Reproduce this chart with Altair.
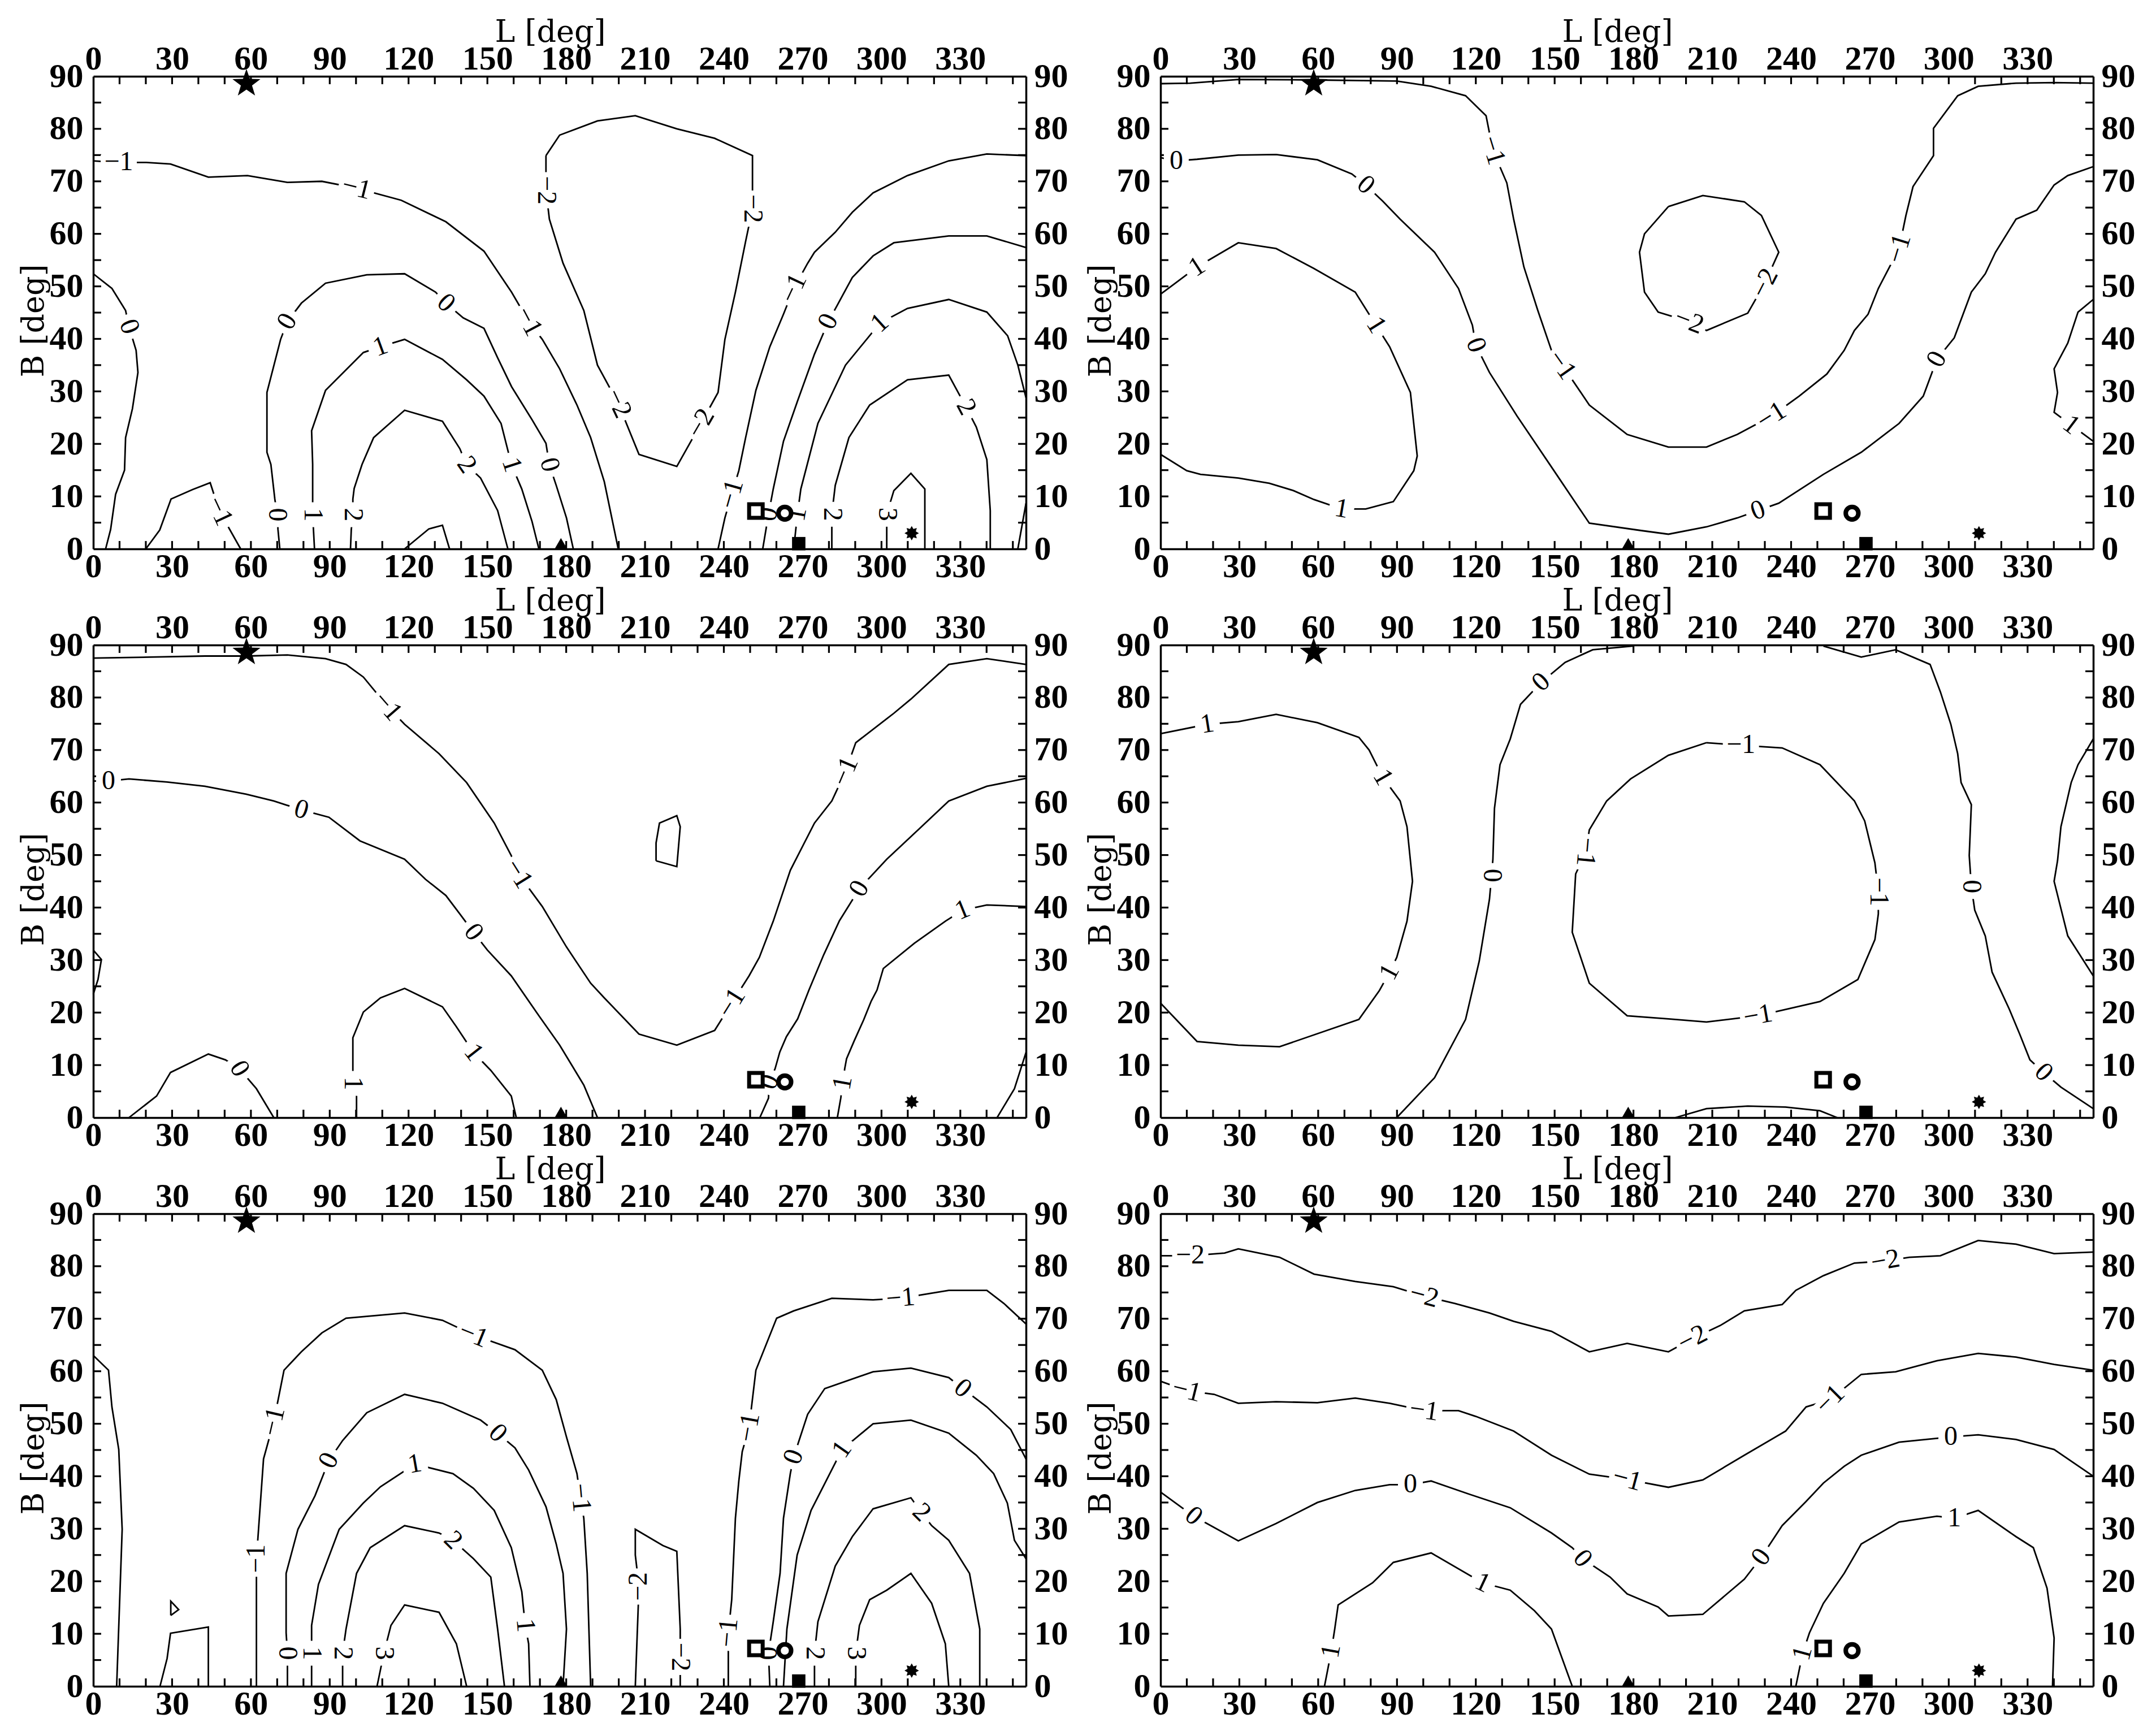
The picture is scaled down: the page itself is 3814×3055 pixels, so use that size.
import math
import altair as alt
import pandas as pd

# ---------------------------------------------------------------- data
X_MAX = 355
X_LABELS = list(range(0, 331, 30))
Y_LABELS = list(range(0, 91, 10))
X_TICKS = list(range(10, 351, 10))
Y_TICKS = list(range(5, 86, 5))

# markers (same in every panel)
MK_L = [58.3, 252.2, 263.2, 268.5, 178.0, 311.5]
MK_B = [88.6, 7.2, 6.8, 1.0, 1.0, 3.0]
MK_KIND = ["star", "osq", "ocirc", "fsq", "tri", "ast"]

# contour lines: list of (L values, B values)
P1_LINES = [
    ([0, 9.7, 20.2, 29.4, 43.8, 58.7, 73.9, 87, 100.2, 117.2, 134.2, 148.7, 159.2, 165.7, 170.9, 177.5, 184.1, 189.3, 194.5, 199.8],
     [73.9, 73.6, 73.6, 73.3, 70.8, 71.1, 69.8, 70, 68.7, 66.4, 62.3, 56.7, 48.9, 43.3, 39.9, 34.3, 27.4, 21.2, 12.8, 0]),
    ([172.3, 177.5, 191.9, 206.3, 222.1, 236.5, 250.9, 250.9, 248.3, 244.4, 240.4, 237.8, 231.3, 222.1, 207.7, 199.8, 191.9, 186.7, 178.8, 173.6, 172.3, 172.3],
     [74.9, 78.8, 81.5, 82.5, 80, 78.2, 74.9, 64.8, 58.6, 48.9, 39.9, 29.8, 23.9, 15.7, 18, 27.7, 35, 45.4, 54.4, 62.8, 68.3, 74.9]),
    ([0, 7.1, 12.3, 13.6, 16.3, 17, 14.9, 12.3, 11.9, 8.5, 6.6, 4.7],
     [52.4, 49.6, 45.4, 42.3, 37.8, 33.6, 26.7, 21.2, 15, 10.4, 3.7, 0]),
    ([20, 25.3, 29.6, 37.8, 44.5, 48, 56.1], [0, 3.6, 9.5, 11.3, 12.6, 7.2, 0]),
    ([71, 70.3, 70, 69.1, 67.6, 66.1, 66.1, 71.3, 73.9, 79.2, 88.4, 104.1, 118.5, 130.3, 134.2, 140.8, 148.7, 153.9, 159.2, 167, 172.3, 173.6, 176.2, 180.1, 182.7],
     [0, 3.7, 6.5, 9.5, 16.1, 18.4, 29.8, 39.9, 43.3, 46.8, 50.6, 52.2, 52.4, 48.9, 46.8, 44, 42, 36.4, 30.9, 24.6, 20.1, 16, 12.1, 5.9, 0]),
    ([84.2, 83.8, 83.5, 83.5, 83.5, 83.1, 88.4, 102.8, 109.3, 118.5, 132.9, 142.1, 148.7, 155.2, 159.2, 163.1, 167, 169.6],
     [0, 3.7, 6.5, 9.5, 16.1, 22.5, 30.2, 37.4, 38.5, 39.9, 36.1, 32.2, 29.1, 23.9, 16, 11.4, 5.2, 0]),
    ([97.9, 98.2, 98.8, 98.8, 99.3, 102.3, 106.7, 118.5, 132.9, 139.5, 142.1, 147.4, 153.9, 157.8],
     [0, 3.7, 6.5, 9.5, 11.5, 16.1, 21.2, 26.4, 24.3, 19.1, 16, 13.5, 7.3, 0]),
    ([118.5, 127.7, 132.9, 135.6], [0, 3.8, 4.5, 0]),
    ([237.8, 240.4, 243, 245.7, 248.3, 252.2, 257.5, 262.7, 266.6, 271.9, 274.5, 282.4, 288.9, 296.8, 309.9, 325.6, 340.1, 355],
     [0, 5.9, 10.4, 14.9, 21.2, 30.2, 38.5, 44.7, 49.6, 54.4, 56.5, 60.3, 64.1, 67.8, 71.1, 73.9, 75.2, 74.9]),
    ([254.8, 257, 258.8, 262.7, 268, 274.5, 279.8, 288.9, 296.8, 304.7, 325.6, 340.1, 355],
     [0, 6.6, 11.4, 20.5, 28.1, 37.1, 43.3, 51.7, 55.8, 58.3, 59.6, 59.6, 57.4]),
    ([266.6, 268, 269.3, 275.8, 286.3, 299.4, 309.9, 325.6, 340.1, 348, 351.9, 355],
     [0, 6.6, 11.4, 23.9, 35, 43, 45.8, 47.5, 45.1, 40.6, 35, 28.8]),
    ([281.1, 281.1, 282.4, 287.6, 295.5, 309.9, 325.6, 332.2, 336.1, 340.1, 341.4, 341.4],
     [0, 6.6, 12.1, 21.2, 27.4, 32.2, 33.1, 27, 23.2, 17, 7.3, 0]),
    ([302, 302, 304.7, 311.2, 316.5, 316.5], [0, 6.6, 11.1, 14.4, 11.4, 0]),
    ([351.9, 355], [0, 8.7]),
]
P1_LABELS = [
    (9.7, 73.6, "−1", 0), (100.2, 68.7, "−1", 14), (165.7, 43.3, "−1", 62),
    (172.3, 68.3, "−2", 90), (250.9, 64.8, "−2", 90), (199.8, 27.7, "−2", 65), (231.3, 23.9, "−2", 300),
    (13.6, 42.3, "0", 70), (48, 7.2, "−1", 65), (70, 6.5, "0", 90), (73.9, 43.3, "0", 300),
    (134.2, 46.8, "0", 43), (173.6, 16, "0", 76), (83.5, 6.5, "1", 90), (109.3, 38.5, "1", 340),
    (159.2, 16, "1", 72), (98.8, 6.5, "2", 90), (142.1, 16, "2", 55), (243, 10.4, "−1", 286),
    (266.6, 49.6, "−1", 295), (257, 6.6, "0", 280), (279.8, 43.3, "0", 296), (268, 6.6, "1", 280),
    (299.4, 43, "1", 318), (281.1, 6.6, "2", 90), (332.2, 27, "2", 62), (302, 6.6, "3", 90),
]

P2_LINES = [
    ([0, 11.3, 29.6, 59.7, 89.9, 103, 116.1, 123.9, 126.5, 131.8, 134.4, 138.3, 143.6, 148.8, 152.7, 156.7, 163.2, 177.6, 193.3, 207.8, 219.5, 232.6, 243.1, 253.6, 260.2, 264.1, 269.3, 273.2, 281.1, 283.7, 286.4, 294.2, 294.2, 303.4, 311.2, 325.6, 340.1, 355],
     [88.6, 88.7, 89.4, 89.3, 89.1, 88.1, 86.3, 82.5, 75.9, 69.7, 62.8, 53.7, 45.4, 37.8, 35, 32.2, 27.4, 21.8, 19.4, 19.4, 21.8, 25.3, 29.1, 33.3, 37.8, 41.6, 44.7, 49.6, 57.2, 63.5, 69, 74.9, 80.1, 86.3, 88.1, 88.7, 88.8, 88.7]),
    ([0, 6, 13.9, 29.6, 44, 59.7, 72.8, 78.1, 84.6, 91.2, 104.3, 113.4, 118.7, 120, 125.2, 135.7, 148.8, 163.2, 182.9, 193.3, 207.8, 219.5, 227.4, 235.3, 252.3, 266.7, 281.1, 290.3, 295.5, 302.1, 308.6, 313.9, 317.8, 325.6, 333.5, 340.1, 345.3, 355],
     [74.5, 73.9, 74.2, 75, 75.1, 74.1, 71.4, 69.3, 66.2, 62.8, 56.5, 49.6, 42.6, 38.8, 33.6, 25.3, 15.6, 4.9, 3.5, 2.8, 4.2, 5.9, 7.3, 8.7, 14.2, 18.4, 23.9, 29.1, 36.1, 40.2, 48.9, 52.4, 56.5, 62.8, 64.5, 69.3, 71.1, 72.8]),
    ([0, 13.9, 29.6, 44, 58.4, 74.1, 82, 87.2, 95.1, 97.7, 96.4, 88.6, 78.1, 68.9, 58.4, 50.6, 41.4, 29.6, 15.2, 10, 0],
     [48.5, 53.7, 58.3, 57.2, 53.4, 48.9, 42.6, 38.5, 29.8, 17.7, 14.9, 9, 7.6, 7.6, 9.4, 11.1, 12.5, 13.5, 14.2, 14.9, 18]),
    ([193.3, 206.4, 222.2, 228.7, 235.3, 230, 223.5, 207.8, 201.2, 189.4, 184.2, 182.3, 184.2, 193.3],
     [65.2, 67.3, 66.1, 63.5, 56.5, 50.6, 44.9, 41.6, 43.3, 45.1, 48.9, 56.5, 60, 65.2]),
    ([355, 349.2, 345.3, 340.1, 341.4, 340.1, 346.6, 355], [47.5, 45.1, 39.2, 34.3, 29.8, 26, 23.6, 20.5]),
]
P2_LABELS = [
    (126.5, 75.9, "−1", 73), (152.7, 35, "−1", 55), (232.6, 25.3, "−1", 328), (281.1, 57.2, "−1", 287),
    (6, 73.9, "0", 0), (78.1, 69.3, "0", 41), (120, 38.8, "0", 70), (227.4, 7.3, "0", 340), (295.5, 36.1, "0", 298),
    (13.9, 53.7, "1", 327), (82, 42.6, "1", 58), (68.9, 7.6, "1", 10),
    (230, 50.6, "−2", 297), (201.2, 43.3, "−2", 21), (346.6, 23.6, "1", 37),
]

P3_LINES = [
    ([0, 21.5, 42.5, 58.2, 73.9, 88.4, 96.2, 102.8, 112, 118.5, 131.6, 142.1, 152.6, 159.1, 161.8, 170.9, 180.1, 189.3, 194.5, 207.7, 222.1, 236.5, 243, 249.6, 253.5, 258.8, 265.3, 274.5, 281.1, 286.3, 290.2, 304.7, 311.2, 325.6, 340.1, 355],
     [87.5, 87.7, 87.9, 87.9, 88.1, 87.4, 86.3, 83.9, 78.3, 74.9, 69.3, 63.8, 56.1, 49.9, 46.4, 40.2, 32.5, 25.6, 22.8, 15.9, 13.8, 16.6, 21.8, 27, 30.5, 37.4, 47.1, 56.1, 60.3, 65.9, 71.4, 77, 79.7, 86.3, 87.4, 86.3]),
    ([0, 5.8, 13.6, 28.1, 42.5, 58.2, 68.7, 79.2, 89.7, 101.5, 118.5, 126.4, 134.2, 139.5, 144.7, 150, 159.1, 169.6, 177.5, 186.7, 191.9],
     [64.1, 64.1, 64.5, 63.9, 63.1, 61.6, 60.3, 58.6, 57.2, 52.7, 49.2, 45.4, 42.3, 38.8, 35.3, 31.9, 27, 19.4, 13.8, 6.2, 0]),
    ([253.7, 257, 257.3, 259.5, 261.3, 263.8, 268.1, 272.4, 278, 284, 291.6, 302, 315.2, 325.6, 340.1, 355],
     [0, 3.7, 6.8, 9.3, 12.5, 15.4, 18.8, 24.3, 31, 37.5, 43.6, 49.2, 55.4, 60.3, 63.1, 64.6]),
    ([100.2, 100.2, 98.8, 98.8, 98.8, 102.8, 109.3, 118.5, 132.9, 138.2, 144.7, 151.3, 159.1, 161],
     [0, 4.1, 6.5, 9.6, 15.2, 20.1, 22.8, 24.6, 21.1, 17.3, 12.4, 9, 4.1, 0]),
    ([283.2, 284.5, 285.3, 286, 286.7, 289.6, 293.2, 296.1, 298.3, 300.7, 312.5, 324.3, 330.9, 340.1, 355],
     [0, 3.7, 6.6, 9.3, 11.2, 14.6, 18.6, 22.2, 24.3, 28.4, 33.2, 37.4, 39.5, 40.5, 40.2]),
    ([0, 3.1, 1.8, 0], [31.9, 30.1, 26.3, 23.5]),
    ([13.6, 24.1, 29.4, 43.8, 50.3, 55.6, 62.1, 68.7], [0, 4.1, 8.6, 12.1, 11, 9.3, 5.5, 0]),
    ([214.2, 222.1, 223.4, 222.1, 215.5, 214.2, 214.2], [48.9, 47.8, 55.4, 57.5, 56.1, 52.3, 48.9]),
    ([344, 350.6, 355], [0, 5.5, 12.4]),
]
P3_LABELS = [
    (112, 78.3, "−1", 49), (161.8, 46.4, "−1", 58), (243, 21.8, "−1", 302), (286.3, 65.9, "−1", 293),
    (5.8, 64.1, "0", 0), (79.2, 58.6, "0", 17), (144.7, 35.3, "0", 53), (257.3, 6.8, "0", 290),
    (291.6, 43.6, "0", 300), (98.8, 6.5, "1", 90), (144.7, 12.4, "1", 52), (285.3, 6.6, "1", 280),
    (330.9, 39.5, "1", 338), (55.6, 9.3, "0", 60),
]

P4_LINES = [
    ([0, 17.8, 29.6, 44, 59.7, 75.5, 79.4, 84.6, 91.2, 93.8, 95.9, 93.8, 89.9, 87.2, 83.3, 75.5, 61, 45.3, 29.6, 13.9, 0],
     [73.1, 74.9, 75.4, 76.8, 75.2, 72.4, 70, 64.8, 60.3, 55.4, 45, 37.4, 30.5, 27.7, 24.2, 18.7, 16.2, 13.5, 13.8, 14.5, 21.8]),
    ([179.7, 164.5, 154, 144.9, 137, 133.1, 129.2, 127.1, 126.5, 126, 125.2, 121.3, 116.1, 104.3, 89.9],
     [89.8, 89.1, 86.7, 82.9, 78.7, 72.1, 67.2, 58.9, 49.2, 46.1, 41.6, 29.8, 18.7, 7.6, 0]),
    ([252.3, 266.7, 279.8, 292.9, 296.8, 300.8, 303.4, 304.7, 308.6, 307.8, 308.6, 309.9, 313.9, 316.5, 323, 327, 330.9, 336.1, 342.7, 355],
     [89.8, 87.7, 89.1, 86.3, 81.1, 74.9, 69.3, 63.8, 59.6, 49.9, 44, 39.5, 34.6, 27.7, 20.7, 15.9, 11, 8.6, 5.8, 1.7]),
    ([207.8, 193.3, 178.9, 169.8, 163.2, 161.9, 158, 156.7, 163.2, 177.6, 193.3, 207.8, 227.4, 251, 265.4, 271.9, 273.2, 273.2, 271.9, 268, 264.1, 251, 236.6, 220.9, 207.8],
     [71.4, 69, 64.5, 60.3, 54.8, 50.6, 46.4, 35.3, 25.6, 19.4, 18.8, 18.2, 19.4, 22.1, 26.3, 33.9, 38.8, 43, 48.5, 56.5, 60.3, 67.2, 70.4, 70.9, 71.4]),
    ([196, 207.8, 223.5, 237.9, 251, 257.5], [0, 1.7, 2.2, 2, 1.3, 0]),
    ([355, 349.2, 346.6, 342.7, 341.4, 340.1, 345.3, 355], [72.1, 67.2, 63.8, 55.4, 48.9, 45, 34.6, 27]),
]
P4_LABELS = [
    (17.8, 74.9, "1", 351), (84.6, 64.8, "1", 60), (87.2, 27.7, "1", 298),
    (144.9, 82.9, "0", 317), (126, 46.1, "0", 90), (308.6, 44, "0", 90), (336.1, 8.6, "0", 45),
    (161.9, 50.6, "−1", 95), (227.4, 19.4, "−1", 350), (273.2, 43, "−1", 90), (220.9, 70.9, "−1", 0),
]

P5_LINES = [
    ([0, 5.8, 7.1, 9.7, 11, 8.9], [63, 60.2, 53.2, 45.1, 29.9, 0]),
    ([25.4, 28.1, 29.4, 43.8, 43.8], [0, 5.3, 10.1, 11.3, 0]),
    ([29.5, 32.5, 29.5, 29.5], [13.5, 14.6, 16.2, 13.5]),
    ([62.1, 62.1, 62.1, 62.9, 64.8, 68.7, 72.6, 79.2, 87, 96.2, 118.5, 132.9, 144.7, 160.5, 170.9, 176.2, 180.1, 184.1, 185.4, 186.7, 188, 189.3],
     [0, 20.4, 24.3, 29.9, 43.3, 50.4, 60.2, 63.7, 67.3, 70.1, 71.1, 69.7, 66.9, 64.1, 60.2, 54.6, 47.5, 40.5, 35.9, 32, 21.5, 0]),
    ([73.9, 73.9, 73.4, 73.4, 77.9, 84.4, 89.7, 94.9, 104.1, 118.5, 132.9, 147.4, 153.9, 160.5, 165.7, 172.3, 176.2, 178.8, 180.1, 178.8],
     [0, 6.3, 10.2, 21.5, 29.9, 36.3, 43, 46.8, 52.1, 55.6, 53.9, 50.7, 48.2, 45.4, 41.2, 34.2, 27.1, 21.5, 10.9, 0]),
    ([83.1, 83.1, 83.1, 85.7, 93.6, 102.8, 109.3, 122.4, 136.9, 144.7, 152.6, 159.1, 163.1, 164.4, 165.7, 166.2],
     [0, 6.3, 11.6, 19.4, 29.9, 34.9, 38, 42.3, 40.5, 37.7, 33.5, 26.4, 18, 11.6, 8.1, 0]),
    ([94.9, 94.9, 96.2, 100.2, 105.4, 118.5, 131.6, 136.9, 144.7, 151.3, 153.9, 156.5],
     [0, 6.3, 10.9, 21.5, 26.4, 30.6, 29.2, 27.8, 24.3, 20.8, 10.9, 0]),
    ([108, 110.6, 113.3, 118.5, 131.6, 138.2, 142.1], [0, 6.3, 11.6, 15.5, 14.1, 8.1, 0]),
    ([206.3, 207.7, 206.3, 206.3, 216.8, 222.1, 223.4, 223.4, 223.4], [0, 19, 25, 29.9, 26.8, 25.7, 10.9, 5.6, 0]),
    ([241.7, 241.7, 243, 244.4, 245.7, 247, 249.6, 252.2, 260.1, 266.6, 281.1, 296.8, 307.3, 325.6, 340.1, 346.6, 355],
     [0, 10.2, 16.5, 32, 39.1, 44.7, 49.3, 60.2, 70.1, 71.5, 73.9, 73.6, 73.9, 75.4, 75.4, 72.9, 69]),
    ([257.5, 257, 258.8, 261.4, 262.7, 265.3, 266.6, 271.9, 278.4, 296.8, 311.2, 325.6, 330.9, 340.1, 349.2, 355],
     [0, 6.3, 12.3, 21.5, 32, 40.5, 43.7, 51.8, 56.7, 59.9, 60.6, 58.8, 56.7, 53.2, 48.9, 43.3]),
    ([262.7, 264, 267.9, 273.2, 285, 296.8, 311.2, 325.6, 336.1, 342.7, 347.9, 350.6, 355],
     [0, 10.9, 25, 33.5, 45.1, 50, 50.7, 48.2, 44, 40.5, 34.9, 27.8, 24.3]),
    ([274.5, 274.5, 275.8, 282.4, 288.9, 296.8, 311.2, 315.2, 319.1, 325.6, 333.5, 337.4, 337.4],
     [0, 6.3, 12.3, 22.9, 28.5, 33.8, 35.9, 33.1, 30.6, 27.8, 21.5, 10.9, 0]),
    ([290.2, 290.2, 291.6, 295.5, 302, 311.2, 319.1, 324.3, 325.6], [0, 6.3, 11.6, 16.5, 18.3, 21.5, 15.8, 8.1, 0]),
]
P5_LABELS = [
    (62.1, 24.3, "−1", 270), (68.7, 50.4, "−1", 283), (144.7, 66.9, "−1", 22), (185.4, 35.9, "−1", 85),
    (73.9, 6.3, "0", 90), (89.7, 43, "0", 297), (153.9, 48.2, "0", 45),
    (83.1, 6.3, "1", 90), (122.4, 42.3, "1", 350), (164.4, 11.6, "1", 85),
    (94.9, 6.3, "2", 90), (136.9, 27.8, "2", 45), (110.6, 6.3, "3", 90),
    (207.7, 19, "−2", 270), (223.4, 5.6, "−2", 90),
    (241.7, 10.2, "−1", 275), (249.6, 49.3, "−1", 280), (307.3, 73.9, "−1", 355),
    (257, 6.3, "0", 270), (266.6, 43.7, "0", 290), (330.9, 56.7, "0", 40),
    (285, 45.1, "1", 305), (274.5, 6.3, "2", 90), (315.2, 33.1, "2", 45), (290.2, 6.3, "3", 90),
]

P6_LINES = [
    ([0, 11.3, 24.4, 29.6, 45.3, 58.4, 74.1, 88.6, 100.3, 112.1, 125.2, 134.4, 148.8, 163.2, 177.6, 193.3, 202.5, 213, 222.2, 236.6, 241.8, 252.3, 264.1, 275.9, 285, 296.8, 311.2, 325.6, 340.1, 355],
     [82, 82, 82.5, 83.3, 81.7, 78.5, 77.1, 76.1, 74.3, 72.9, 71.1, 69.5, 67.6, 63.7, 65.3, 63.7, 66.2, 68.7, 71.5, 72.7, 75.4, 78.2, 80.6, 81, 81.7, 82, 84.9, 84.2, 82.4, 82.7]),
    ([0, 10, 20.4, 29.6, 44, 59.7, 74.1, 87.2, 100.3, 113.4, 120, 134.4, 148.8, 163.2, 177.6, 193.3, 206.4, 222.2, 237.9, 245.7, 254.9, 266.7, 279.8, 295.5, 311.2, 325.6, 340.1, 355],
     [58.1, 56.3, 55.6, 53.9, 54.2, 54, 54.9, 53.9, 52.5, 52.5, 51.4, 48.6, 44, 40.4, 39.4, 37.9, 39.3, 44, 48.6, 53.2, 54.6, 59.4, 59.9, 62, 63.4, 62.7, 61.3, 60.2]),
    ([0, 12.6, 29.6, 44, 59.7, 74.1, 87.2, 95.1, 103, 117.4, 133.1, 148.8, 156.7, 160.6, 171.1, 177.6, 189.4, 193.3, 206.4, 222.2, 228.7, 236.6, 245.7, 252.3, 260.2, 266.7, 281.1, 300.8, 311.2, 325.6, 340.1, 355],
     [37, 32.4, 27.7, 31, 35, 37.3, 38.4, 38.4, 39.1, 36.6, 34, 29.2, 26.4, 24.3, 20.8, 17.6, 15.1, 13.4, 13.7, 20.4, 24.6, 30.6, 35.2, 38.7, 41.9, 44, 46.5, 47.5, 47.9, 47, 45.1, 40]),
    ([62.4, 65, 66.3, 67.6, 80.7, 88.6, 103, 122.6, 133.1, 142.3, 148.8, 156.7],
     [0, 6.7, 10.9, 15.5, 19.7, 23.6, 25.4, 19.7, 18.3, 14.4, 10.9, 0]),
    ([241.8, 244.4, 247, 252.3, 260.2, 266.7, 281.1, 295.5, 302.1, 311.2, 325.6, 332.2, 337.4, 340.1, 339.5],
     [0, 6.3, 10.2, 15.8, 21.5, 27.1, 31.3, 32.4, 32, 33.5, 28.5, 26.4, 18.7, 9.2, 0]),
]
P6_LABELS = [
    (11.3, 82, "−2", 0), (100.3, 74.3, "−2", 15), (202.5, 66.2, "−2", 333), (275.9, 81, "−2", 350),
    (10, 56.3, "−1", 14), (100.3, 52.5, "−1", 8), (177.6, 39.4, "−1", 15), (254.9, 54.6, "−1", 315),
    (12.6, 32.4, "0", 40), (95.1, 38.4, "0", 0), (160.6, 24.3, "0", 50), (228.7, 24.6, "0", 306), (300.8, 47.5, "0", 0),
    (65, 6.7, "1", 280), (122.6, 19.7, "1", 25), (244.4, 6.3, "1", 285), (302.1, 32, "1", 0),
]

PANELS = [(P1_LINES, P1_LABELS), (P2_LINES, P2_LABELS), (P3_LINES, P3_LABELS),
          (P4_LINES, P4_LABELS), (P5_LINES, P5_LABELS), (P6_LINES, P6_LABELS)]

# ---------------------------------------------------------------- style
PW, PH = 1650, 836
TICK_FONT = "Liberation Serif"
TITLE_FONT = "DejaVu Serif"
LAB_FONT = "Liberation Serif"


def star_path(n, r_in):
    pts = []
    for k in range(2 * n):
        r = 1.0 if k % 2 == 0 else r_in
        a = math.radians(-90 + 180.0 * k / n)
        pts.append(f"{r*math.cos(a):.3f},{r*math.sin(a):.3f}")
    return "M" + "L".join(pts) + "Z"


STAR = star_path(5, 0.40)
ASTER = star_path(8, 0.62)
BOX1 = "M-1,-0.6L1,-0.6L1,0.6L-1,0.6Z"
BOX2 = "M-1,-0.42L1,-0.42L1,0.42L-1,0.42Z"

xs = alt.Scale(domain=[0, X_MAX], nice=False, zero=False)
ys = alt.Scale(domain=[0, 90], nice=False, zero=False)

common = dict(grid=False, ticks=False, tickSize=0, domainColor="black", domainWidth=3.5,
              labelFont=TICK_FONT, labelFontWeight="bold", labelFontSize=60, labelColor="black",
              labelFlush=False, labelOverlap=False, labelBound=False, zindex=1, format="d",
              titleFont=TITLE_FONT, titleFontWeight="normal", titleFontSize=54, titleColor="black")

ax_bottom = alt.Axis(orient="bottom", values=X_LABELS, title=None, labelPadding=2, **common)
ax_top = alt.Axis(orient="top", values=X_LABELS, title="L [deg]", labelPadding=0,
                  titleX=808, titleY=-62, titleBaseline="alphabetic", titleAlign="center", **common)
ax_left = alt.Axis(orient="left", values=Y_LABELS, title="B [deg]", labelPadding=18,
                   titleAngle=270, titleX=-89, titleY=432, titleBaseline="alphabetic",
                   titleAlign="center", **common)
ax_right = alt.Axis(orient="right", values=Y_LABELS, title=None, labelPadding=14, **common)


def panel(lines, labels):
    rows = []
    for cid, (Ls, Bs) in enumerate(lines):
        for k, (l, b) in enumerate(zip(Ls, Bs)):
            rows.append(dict(cid=cid, k=k, L=l, B=b))
    ldf = pd.DataFrame(rows)
    tdf = pd.DataFrame([dict(L=l, B=b, t=t, ang=a, shp=(BOX1 if len(t) == 1 else BOX2),
                             sz=(44 * 44 if len(t) == 1 else 64 * 64)) for l, b, t, a in labels])
    mdf = pd.DataFrame(dict(L=MK_L, B=MK_B, kind=MK_KIND))
    xt = pd.DataFrame(dict(L=X_TICKS, b0=0.0, b1=1.5, t0=88.5, t1=90.0))
    yt = pd.DataFrame(dict(B=Y_TICKS, l0=0.0, l1=3.0, r0=X_MAX - 3.0, r1=float(X_MAX)))

    line_layer = alt.Chart(ldf).mark_line(color="black", strokeWidth=2.8).encode(
        x=alt.X("L:Q", scale=xs, axis=ax_bottom),
        y=alt.Y("B:Q", scale=ys, axis=ax_left),
        detail="cid:N", order="k:Q")
    top_ticks = alt.Chart(xt).mark_rule(color="black", strokeWidth=3.2).encode(
        x=alt.X("L:Q", scale=xs, axis=ax_top),
        y=alt.Y("t0:Q", scale=ys, axis=ax_right), y2="t1:Q")
    bot_ticks = alt.Chart(xt).mark_rule(color="black", strokeWidth=3.2).encode(
        x=alt.X("L:Q", axis=None), y=alt.Y("b0:Q", axis=None), y2="b1:Q")
    left_ticks = alt.Chart(yt).mark_rule(color="black", strokeWidth=3.2).encode(
        y=alt.Y("B:Q", axis=None), x=alt.X("l0:Q", axis=None), x2="l1:Q")
    right_ticks = alt.Chart(yt).mark_rule(color="black", strokeWidth=3.2).encode(
        y=alt.Y("B:Q", axis=None), x=alt.X("r0:Q", axis=None), x2="r1:Q")
    boxes = alt.Chart(tdf).mark_point(filled=True, color="white", opacity=1, strokeWidth=0).encode(
        x=alt.X("L:Q", axis=None), y=alt.Y("B:Q", axis=None),
        shape=alt.Shape("shp:N", scale=None), size=alt.Size("sz:Q", scale=None),
        angle=alt.Angle("ang:Q", scale=None))
    texts = alt.Chart(tdf).mark_text(font=LAB_FONT, fontSize=48, color="black",
                                     align="center", baseline="middle").encode(
        x=alt.X("L:Q", axis=None), y=alt.Y("B:Q", axis=None), text="t:N",
        angle=alt.Angle("ang:Q", scale=None))

    def mk(kind, **kw):
        return alt.Chart(mdf).transform_filter(alt.datum.kind == kind).mark_point(opacity=1, **kw).encode(
            x=alt.X("L:Q", axis=None), y=alt.Y("B:Q", axis=None))

    markers = [
        mk("star", shape=STAR, size=2700, filled=True, color="black", strokeWidth=0),
        mk("osq", shape="square", size=576, filled=False, stroke="black", fill="white", strokeWidth=7),
        mk("ocirc", shape="circle", size=500, filled=False, stroke="black", fill="white", strokeWidth=8),
        mk("fsq", shape="square", size=560, filled=True, color="black", strokeWidth=0),
        mk("tri", shape="triangle-up", size=520, filled=True, color="black", strokeWidth=0),
        mk("ast", shape=ASTER, size=650, filled=True, color="black", strokeWidth=0),
    ]
    return alt.layer(line_layer, top_ticks, bot_ticks, left_ticks, right_ticks, boxes, texts,
                     *markers).resolve_axis(x="independent", y="independent").properties(width=PW, height=PH)


charts = [panel(l, t) for l, t in PANELS]
chart = alt.ConcatChart(concat=charts, columns=2, bounds="flush",
                        spacing=alt.RowColnumber(row=170, column=238)).properties(
    padding={"left": 25, "top": 22, "right": 10, "bottom": 10},
    background="white",
).configure_view(stroke=None)

chart.save("out.html", embed_options={"renderer": "svg", "actions": False})
